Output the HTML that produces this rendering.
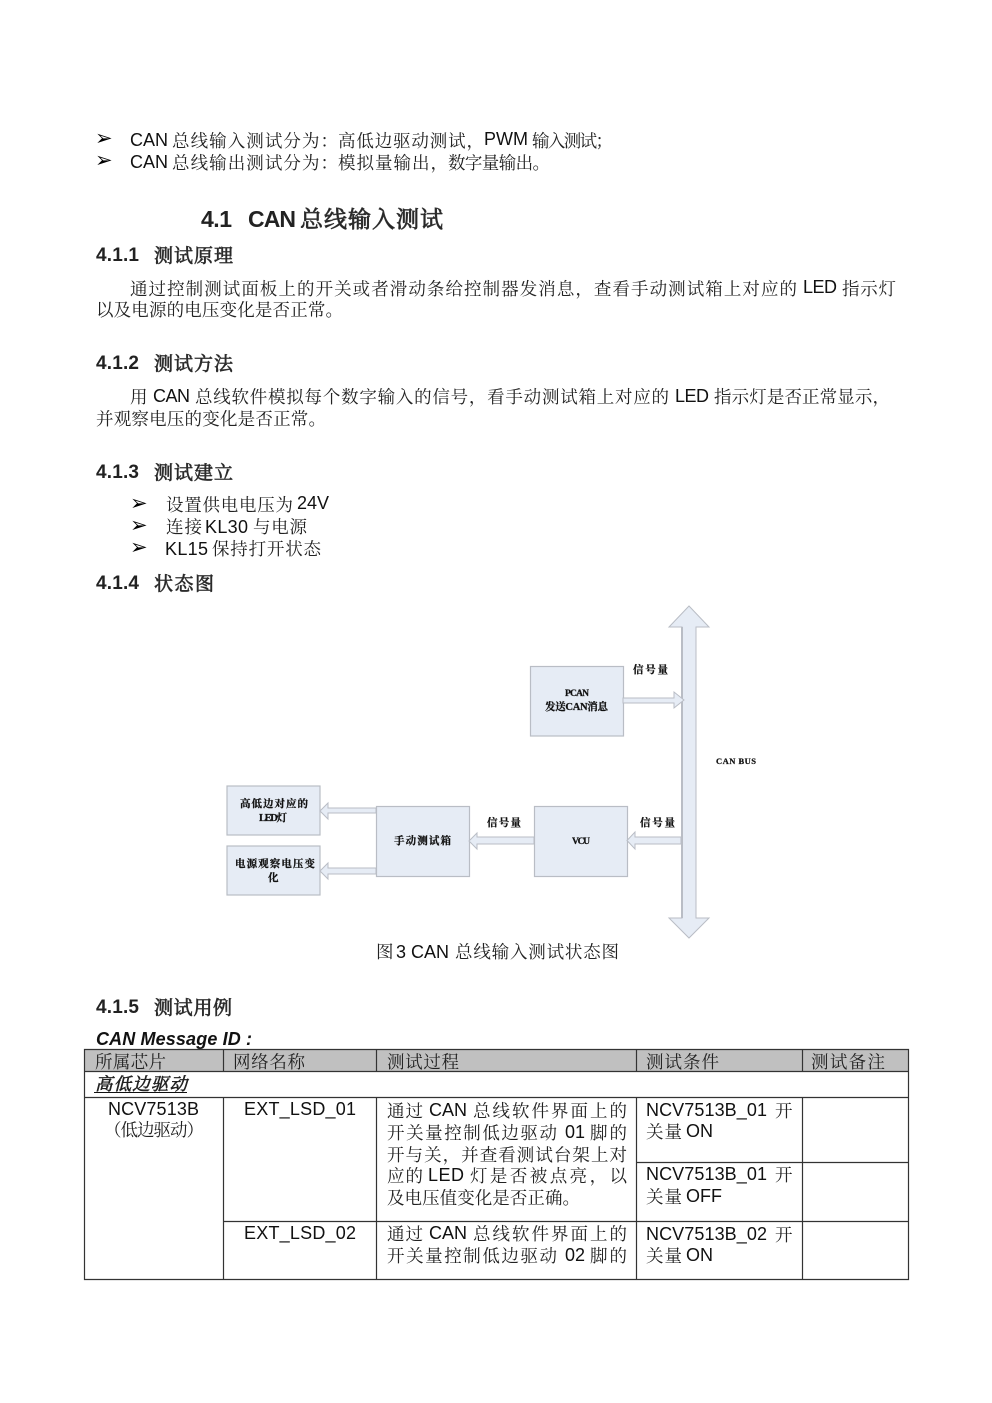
<!DOCTYPE html>
<html><head><meta charset="utf-8"><style>
html,body{margin:0;padding:0;background:#fff}
svg{display:block}
text{font-family:"Liberation Sans","Noto Serif CJK SC",serif;font-size:18px;fill:#111}
.z{font-family:"Noto Serif CJK SC",serif;font-size:17.5px;fill:#222}
.h{font-family:"Liberation Sans",sans-serif;font-weight:bold;font-size:19px;fill:#222}
.hz{font-family:"Noto Serif CJK SC",serif;font-size:19px;fill:#222;stroke:#333;stroke-width:.7}
.h1{font-family:"Liberation Sans",sans-serif;font-weight:bold;font-size:23px;fill:#222}
.h1z{font-family:"Noto Serif CJK SC",serif;font-size:23px;fill:#222;stroke:#333;stroke-width:.8}
.b{font-family:"DejaVu Sans",sans-serif;font-size:21px;fill:#000}
.d{font-family:"Liberation Serif","Noto Serif CJK SC",serif;font-size:10.5px;font-weight:bold;fill:#111;stroke:#111;stroke-width:.25}
.box{fill:#e6ecf5;stroke:#b9bdc5;stroke-width:1.2}
.ar{fill:#e6ecf5;stroke:#b9bdc5;stroke-width:1}
.l{stroke:#333;stroke-width:1.2;fill:none}
</style></head><body>
<svg width="992" height="1403" viewBox="0 0 992 1403" xmlns="http://www.w3.org/2000/svg">
<text class="b" x="95" y="145">➢</text><text class="b" x="95" y="167">➢</text>
<text x="130" y="146" textLength="38">CAN</text><text class="z" x="172" y="147" textLength="166">总线输入测试分为：</text><text class="z" x="338" y="147" textLength="146">高低边驱动测试，</text><text x="484" y="145" textLength="44">PWM</text><text class="z" x="532" y="147" textLength="81">输入测试；</text>
<text x="130" y="168" textLength="38">CAN</text><text class="z" x="172" y="169" textLength="166">总线输出测试分为：</text><text class="z" x="338" y="169" textLength="110">模拟量输出，</text><text class="z" x="448" y="169" textLength="102">数字量输出。</text>

<text class="h1" x="201" y="227" textLength="31">4.1</text><text class="h1" x="248" y="227" textLength="48">CAN</text><text class="h1z" x="300" y="227" textLength="143">总线输入测试</text>
<text class="h" x="96" y="261" textLength="43">4.1.1</text><text class="hz" x="154" y="262" textLength="79">测试原理</text>
<text class="z" x="130" y="295" textLength="667">通过控制测试面板上的开关或者滑动条给控制器发消息，查看手动测试箱上对应的</text><text x="803" y="293" textLength="34">LED</text><text class="z" x="842" y="295" textLength="54">指示灯</text>
<text class="z" x="96" y="316" textLength="247">以及电源的电压变化是否正常。</text>
<text class="h" x="96" y="369" textLength="43">4.1.2</text><text class="hz" x="154" y="370" textLength="79">测试方法</text>
<text class="z" x="130" y="403" textLength="18">用</text><text x="153" y="402" textLength="37">CAN</text><text class="z" x="195" y="403" textLength="474">总线软件模拟每个数字输入的信号，看手动测试箱上对应的</text><text x="675" y="402" textLength="34">LED</text><text class="z" x="714" y="403" textLength="176">指示灯是否正常显示，</text>
<text class="z" x="96" y="425" textLength="230">并观察电压的变化是否正常。</text>
<text class="h" x="96" y="478" textLength="43">4.1.3</text><text class="hz" x="154" y="479" textLength="79">测试建立</text>
<text class="b" x="130" y="510">➢</text><text class="b" x="130" y="532">➢</text><text class="b" x="130" y="554">➢</text>
<text class="z" x="166" y="511" textLength="127">设置供电电压为</text><text x="297" y="509" textLength="32">24V</text>
<text class="z" x="166" y="533" textLength="36">连接</text><text x="205" y="533" textLength="43">KL30</text><text class="z" x="253" y="533" textLength="54">与电源</text>
<text x="165" y="555" textLength="43">KL15</text><text class="z" x="212" y="555" textLength="109">保持打开状态</text>
<text class="h" x="96" y="589" textLength="43">4.1.4</text><text class="hz" x="154" y="590" textLength="60">状态图</text>

<!-- diagram -->
<rect class="box" x="227" y="786" width="93" height="49"/>
<rect class="box" x="227" y="846" width="93" height="49"/>
<rect class="box" x="376.500" y="806.500" width="93" height="70"/>
<rect class="box" x="534.500" y="806.500" width="93" height="70"/>
<rect class="box" x="530.500" y="666.500" width="93" height="69.500"/>
<path class="ar" d="M689 606L709 627H696V918H709L689 938L669 918H682V627H669Z"/>
<path d="M682 627V918" stroke="#b9bdc5" stroke-width="2" fill="none"/>
<path class="ar" d="M623 698H674V692L684 700L674 708V703H623Z"/>
<path class="ar" d="M681 837H635V832L627 840.500L635 849V844H681Z"/>
<path class="ar" d="M534 837H477V833L469 841L477 849V844H534Z"/>
<path class="ar" d="M376 808H328V803L320 811L328 819V813H376Z"/>
<path class="ar" d="M376 868H328V863L320 871L328 879V874H376Z"/>
<text class="d" x="633" y="673" textLength="35">信号量</text>
<text class="d" x="565" y="696" textLength="24" style="font-size:9.500px">PCAN</text>
<text class="d" x="545" y="710" textLength="63">发送CAN消息</text>
<text class="d" x="716" y="764" textLength="40" style="font-size:8.500px">CAN  BUS</text>
<text class="d" x="240" y="807" textLength="68">高低边对应的</text>
<text class="d" x="259" y="821" textLength="28">LED灯</text>
<text class="d" x="235" y="867" textLength="80">电源观察电压变</text>
<text class="d" x="268" y="881" textLength="11">化</text>
<text class="d" x="394" y="844" textLength="57">手动测试箱</text>
<text class="d" x="487" y="826" textLength="34">信号量</text>
<text class="d" x="572" y="844" textLength="18" style="font-size:9.500px">VCU</text>
<text class="d" x="640" y="826" textLength="35">信号量</text>
<text class="z" x="376" y="958" textLength="16">图</text><text x="396" y="958" textLength="10">3</text><text x="411" y="958" textLength="38">CAN</text><text class="z" x="455" y="958" textLength="164">总线输入测试状态图</text>

<text class="h" x="96" y="1013" textLength="43">4.1.5</text><text class="hz" x="154" y="1014" textLength="78">测试用例</text>
<text x="96" y="1045" textLength="156" style="font-weight:bold;font-style:italic">CAN Message ID :</text>

<!-- table -->
<rect x="84" y="1049" width="824" height="22" fill="#c0c0c0"/>
<path class="l" d="M84.500 1049.500H908.500V1279.500H84.500ZM84 1071.500H909M84 1097.500H909M223.500 1049V1071M376.500 1049V1071M636.500 1049V1071M802.500 1049V1071M223.500 1097V1280M376.500 1097V1280M636.500 1097V1280M802.500 1097V1280M636 1162.500H909M223 1221.500H909"/>
<text class="z" x="95" y="1068" textLength="71">所属芯片</text>
<text class="z" x="233" y="1068" textLength="72">网络名称</text>
<text class="z" x="387" y="1068" textLength="72">测试过程</text>
<text class="z" x="646" y="1068" textLength="73">测试条件</text>
<text class="z" x="811" y="1068" textLength="74">测试备注</text>
<text class="z" x="95" y="1090" textLength="92" style="font-style:italic;stroke:#222;stroke-width:.6">高低边驱动</text>
<path d="M94 1092.500H187" stroke="#111" stroke-width="1"/>
<text x="108" y="1115" textLength="91">NCV7513B</text>
<text class="z" x="104" y="1136" textLength="100">（低边驱动）</text>
<text x="244" y="1115" textLength="112">EXT_LSD_01</text>
<text x="244" y="1239" textLength="112">EXT_LSD_02</text>
<text class="z" x="387" y="1117" textLength="36">通过</text><text x="429" y="1116" textLength="38">CAN</text><text class="z" x="473" y="1117" textLength="154">总线软件界面上的</text>
<text class="z" x="387" y="1139" textLength="170">开关量控制低边驱动</text><text x="565" y="1138" textLength="20">01</text><text class="z" x="590" y="1139" textLength="37">脚的</text>
<text class="z" x="387" y="1161" textLength="240">开与关，并查看测试台架上对</text>
<text class="z" x="387" y="1182" textLength="36">应的</text><text x="428" y="1181" textLength="36">LED</text><text class="z" x="470" y="1182" textLength="157">灯是否被点亮，以</text>
<text class="z" x="387" y="1204" textLength="193">及电压值变化是否正确。</text>
<text class="z" x="387" y="1240" textLength="36">通过</text><text x="429" y="1239" textLength="38">CAN</text><text class="z" x="473" y="1240" textLength="154">总线软件界面上的</text>
<text class="z" x="387" y="1262" textLength="170">开关量控制低边驱动</text><text x="565" y="1261" textLength="20">02</text><text class="z" x="590" y="1262" textLength="37">脚的</text>
<text x="646" y="1116" textLength="121">NCV7513B_01</text><text class="z" x="775" y="1117" textLength="18">开</text>
<text class="z" x="646" y="1138" textLength="36">关量</text><text x="686" y="1137" textLength="27">ON</text>
<text x="646" y="1180" textLength="121">NCV7513B_01</text><text class="z" x="775" y="1181" textLength="18">开</text>
<text class="z" x="646" y="1203" textLength="36">关量</text><text x="686" y="1202" textLength="36">OFF</text>
<text x="646" y="1240" textLength="121">NCV7513B_02</text><text class="z" x="775" y="1241" textLength="18">开</text>
<text class="z" x="646" y="1262" textLength="36">关量</text><text x="686" y="1261" textLength="27">ON</text>
</svg>
</body></html>
